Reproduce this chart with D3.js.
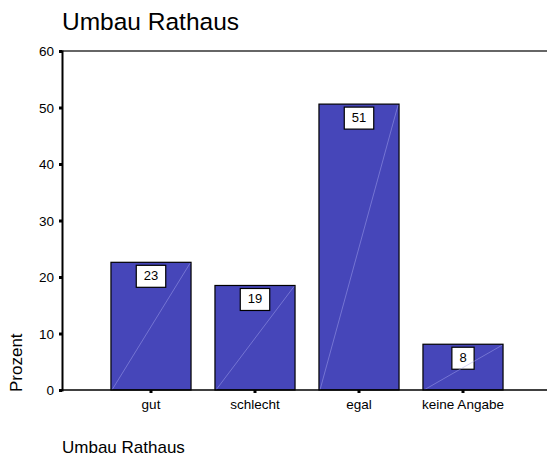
<!DOCTYPE html>
<html>
<head>
<meta charset="utf-8">
<script src="https://cdn.jsdelivr.net/npm/d3@7/dist/d3.min.js"></script>
<style>
  html, body { margin: 0; padding: 0; background: #fff; }
  svg { display: block; font-family: "Liberation Sans", Arial, sans-serif; }
</style>
</head>
<body>
<svg id="chart" width="547" height="459"></svg>
<script>
// Umfrage: Umbau Rathaus (Anteile in Prozent)
const categories = ["gut", "schlecht", "egal", "keine Angabe"];
const percents = [22.6, 18.5, 50.6, 8.1];
const yTicks = [0, 10, 20, 30, 40, 50, 60];
const titleText = "Umbau Rathaus";
const yAxisTitle = "Prozent";
const xAxisTitle = "Umbau Rathaus";

const svg = d3.select("#chart");
const barFill = "#4646B9";

const plot = { left: 62, right: 547, top: 51, bottom: 390 };

const y = d3.scaleLinear().domain([0, 60]).range([plot.bottom, plot.top]);
const x = d3.scaleBand()
  .domain(categories)
  .range([99, 515])
  .paddingInner(0.23)
  .paddingOuter(0.115);

const fmt = v => String(Math.round(v));

// title
svg.append("text")
  .attr("x", 62).attr("y", 30)
  .attr("font-size", 24.5)
  .attr("fill", "#000")
  .text(titleText);

// top frame line
svg.append("line")
  .attr("x1", plot.left).attr("x2", plot.right)
  .attr("y1", plot.top).attr("y2", plot.top)
  .attr("stroke", "#333").attr("stroke-width", 1.5);

// bars
const bars = svg.append("g");
bars.selectAll("rect")
  .data(percents)
  .join("rect")
  .attr("x", (d, i) => x(categories[i]))
  .attr("y", d => y(d))
  .attr("width", x.bandwidth())
  .attr("height", d => y(0) - y(d))
  .attr("fill", barFill)
  .attr("stroke", "#000")
  .attr("stroke-width", 1.2);

// value boxes
const labels = svg.append("g");
percents.forEach((d, i) => {
  const cx = x(categories[i]) + x.bandwidth() / 2;
  const g = labels.append("g");
  const rect = g.append("rect");
  const t = g.append("text")
    .attr("x", cx)
    .attr("y", y(d) + 17.5)
    .attr("text-anchor", "middle")
    .attr("font-size", 13)
    .attr("fill", "#000")
    .text(fmt(d));
  const w = t.node().getComputedTextLength() + 15;
  rect.attr("x", cx - w / 2)
    .attr("y", y(d) + 3)
    .attr("width", w)
    .attr("height", 22)
    .attr("fill", "#fff")
    .attr("stroke", "#000")
    .attr("stroke-width", 1.2);
});

// faint diagonal across each bar
svg.append("g").selectAll("line")
  .data(percents)
  .join("line")
  .attr("x1", (d, i) => x(categories[i]) + 1)
  .attr("y1", y(0))
  .attr("x2", (d, i) => x(categories[i]) + x.bandwidth() - 1)
  .attr("y2", d => y(d) + 1)
  .attr("stroke", "#a8a8f0")
  .attr("stroke-width", 0.6)
  .attr("opacity", 0.8);

// y axis
const yAxis = d3.axisLeft(y).tickValues(yTicks).tickSize(3).tickPadding(5);
const gy = svg.append("g")
  .attr("transform", `translate(${plot.left},0)`)
  .call(yAxis);
gy.select(".domain").attr("stroke", "#000").attr("stroke-width", 2);
gy.selectAll(".tick line").attr("stroke", "#000").attr("stroke-width", 3);
gy.selectAll(".tick text")
  .attr("font-size", 13.5)
  .attr("font-family", "Liberation Sans, Arial, sans-serif")
  .attr("fill", "#000")
  .attr("dy", "0.65em")
  .attr("y", -4);

// x axis
const xAxis = d3.axisBottom(x).tickSize(3).tickPadding(6).tickSizeOuter(0);
const gx = svg.append("g")
  .attr("transform", `translate(0,${plot.bottom})`)
  .call(xAxis);
gx.select(".domain").remove();
gx.append("line")
  .attr("x1", plot.left).attr("x2", plot.right)
  .attr("y1", 0).attr("y2", 0)
  .attr("stroke", "#000").attr("stroke-width", 1.5);
gx.selectAll(".tick line").attr("stroke", "#000").attr("stroke-width", 3);
gx.selectAll(".tick text")
  .attr("font-size", 13.5)
  .attr("font-family", "Liberation Sans, Arial, sans-serif")
  .attr("fill", "#000");

// axis titles
svg.append("text")
  .attr("transform", "translate(22,392) rotate(-90)")
  .attr("text-anchor", "start")
  .attr("font-size", 17)
  .attr("fill", "#000")
  .text(yAxisTitle);

svg.append("text")
  .attr("x", 62).attr("y", 453)
  .attr("font-size", 17)
  .attr("fill", "#000")
  .text(xAxisTitle);
</script>
</body>
</html>
